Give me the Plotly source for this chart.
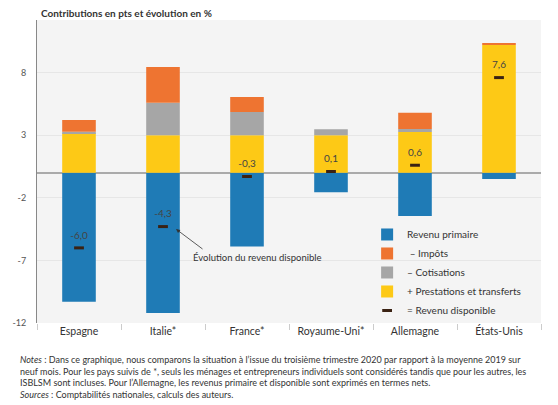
import plotly.graph_objects as go

pays = ["Espagne", "Italie*", "France*", "Royaume-Uni*", "Allemagne", "États-Unis"]
revenu_primaire = [-10.3, -11.2, -5.9, -1.55, -3.45, -0.5]
prestations = [3.15, 3.0, 3.0, 3.0, 3.25, 10.2]
cotisations = [0.13, 2.6, 1.85, 0.48, 0.24, 0.0]
impots = [0.93, 2.85, 1.2, 0.0, 1.3, 0.16]
revenu_disponible = [-6.0, -4.3, -0.3, 0.1, 0.6, 7.6]
y_ticks = [-12, -7, -2, 3, 8]

labels_dispo = [f"{v:.1f}".replace(".", ",") for v in revenu_disponible]

FONT = "Lato"
fig = go.Figure()
fig.add_trace(go.Bar(x=pays, y=revenu_primaire, name="Revenu primaire",
                     marker=dict(color="#1f7bb6", line=dict(width=0)), legendrank=1))
fig.add_trace(go.Bar(x=pays, y=prestations, name="+ Prestations et transferts",
                     marker=dict(color="#fdc916", line=dict(width=0)), legendrank=4))
fig.add_trace(go.Bar(x=pays, y=cotisations, name="– Cotisations",
                     marker=dict(color="#a6a6a6", line=dict(width=0)), legendrank=3))
fig.add_trace(go.Bar(x=pays, y=impots, name=" – Impôts",
                     marker=dict(color="#ee7431", line=dict(width=0)), legendrank=2))
fig.add_trace(go.Scatter(x=pays, y=revenu_disponible, mode="markers", name="= Revenu disponible",
                         marker=dict(symbol="line-ew", size=7, line=dict(width=3, color="#3a2213"), color="#3a2213"),
                         legendrank=5))
fig.add_trace(go.Scatter(x=pays, y=revenu_disponible, mode="markers+text", text=labels_dispo,
                         textposition="top center", showlegend=False, hoverinfo="skip",
                         marker=dict(size=9, opacity=0),
                         textfont=dict(family=FONT, size=10, color="#444444")))

fig.update_layout(
    width=558, height=405,
    margin=dict(l=31, r=17, t=20, b=82),
    paper_bgcolor="white", plot_bgcolor="#f4f4f4",
    barmode="relative", bargap=0.6,
    font=dict(family=FONT, size=10, color="#333333"),
    showlegend=True,
    legend=dict(x=0.655, y=0.34, xanchor="left", yanchor="top", traceorder="normal",
                bgcolor="rgba(0,0,0,0)", font=dict(family=FONT, size=10, color="#333333"),
                itemwidth=30, tracegroupgap=0),
    xaxis=dict(showgrid=False, ticks="outside", tickson="boundaries", ticklen=6,
               tickcolor="#cccccc", showline=False,
               tickfont=dict(family=FONT, size=10.5, color="#333333")),
    yaxis=dict(range=[-12, 12.2], tickvals=y_ticks, ticktext=[str(v) for v in y_ticks],
               showgrid=True, gridcolor="#e6e6e6", gridwidth=1,
               zeroline=True, zerolinecolor="#aaaaaa", zerolinewidth=1.5,
               showline=True, linecolor="#888888", linewidth=1, ticks="",
               ticklabelstandoff=8,
               tickfont=dict(family=FONT, size=9, color="#555555")),
)

fig.add_annotation(xref="paper", yref="paper", x=0.004, y=1.024, xanchor="left", yanchor="middle",
                   text="<b>Contributions en pts et évolution en %</b>", showarrow=False,
                   font=dict(family=FONT, size=10, color="#333333"))

fig.add_annotation(x=1.155, y=-4.5, xref="x", yref="y", text="", showarrow=True,
                   ax=28, ay=21, arrowhead=2, arrowsize=1, arrowwidth=0.8, arrowcolor="#333333")
fig.add_annotation(x=1.335, y=-6.75, xref="x", yref="y", text="Évolution du revenu disponible",
                   showarrow=False, xanchor="left", yanchor="middle",
                   font=dict(family=FONT, size=9.5, color="#333333"))

notes = ("<i>Notes</i> : Dans ce graphique, nous comparons la situation à l’issue du troisième trimestre 2020 par rapport à la moyenne 2019 sur<br>"
         "neuf mois. Pour les pays suivis de *, seuls les ménages et entrepreneurs individuels sont considérés tandis que pour les autres, les<br>"
         "ISBLSM sont incluses. Pour l’Allemagne, les revenus primaire et disponible sont exprimés en termes nets.<br>"
         "<i>Sources</i> : Comptabilités nationales, calculs des auteurs.")
fig.add_annotation(xref="paper", yref="paper", x=-0.037, y=-0.095, xanchor="left", yanchor="top",
                   align="left", text=notes, showarrow=False,
                   font=dict(family=FONT, size=9, color="#333333"))

fig.write_html("out.html", config={"displayModeBar": False},
               post_script="document.body.style.margin='0';")
